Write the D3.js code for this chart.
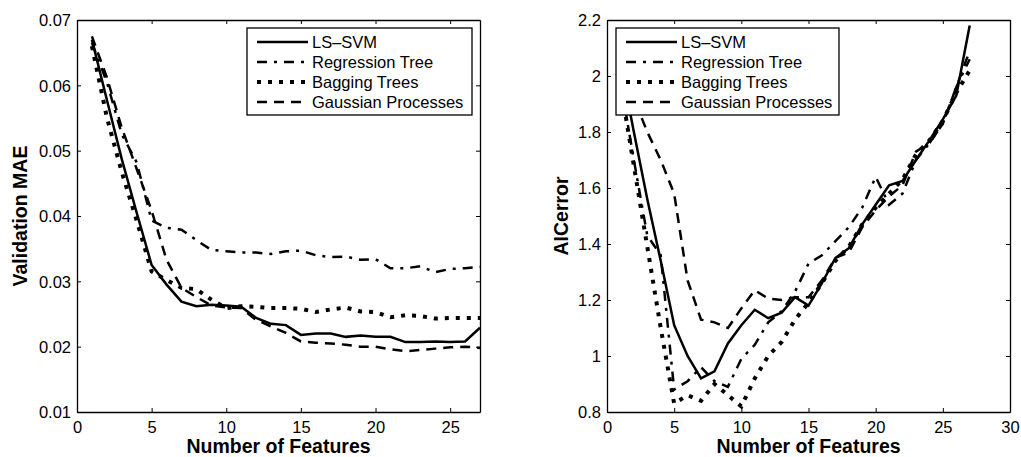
<!DOCTYPE html>
<html>
<head>
<meta charset="utf-8">
<script src="https://cdnjs.cloudflare.com/ajax/libs/d3/7.8.5/d3.min.js"></script>
<style>
  body { margin: 0; background: #fff; }
  text { font-family: "Liberation Sans", Arial, sans-serif; }
</style>
</head>
<body>
<div id="chart"></div>
<script>
// number of features on the x axis
let features = [1, 2, 3, 4, 5, 6, 7, 8, 9, 10, 11, 12, 13, 14, 15, 16, 17, 18, 19, 20, 21, 22, 23, 24, 25, 26, 27];
let seriesNames = ["LS\u2013SVM", "Regression Tree", "Bagging Trees", "Gaussian Processes"];

// left panel: validation MAE
let maeLsSvm = [0.0670, 0.0578, 0.0487, 0.0405, 0.0325, 0.0295, 0.0269, 0.0262, 0.0264, 0.0263, 0.0261, 0.0244, 0.0235, 0.0233, 0.0218, 0.0220, 0.0220, 0.0215, 0.0217, 0.0215, 0.0215, 0.0207, 0.0207, 0.0208, 0.0207, 0.0208, 0.0229];
let maeRegTree = [0.0665, 0.0605, 0.0525, 0.0482, 0.0393, 0.0382, 0.0379, 0.0363, 0.0348, 0.0346, 0.0344, 0.0344, 0.0342, 0.0346, 0.0347, 0.0340, 0.0337, 0.0338, 0.0333, 0.0334, 0.0320, 0.0320, 0.0323, 0.0314, 0.0319, 0.0320, 0.0322];
let maeBagging = [0.0660, 0.0551, 0.0467, 0.0393, 0.0315, 0.0302, 0.0290, 0.0288, 0.0272, 0.0259, 0.0262, 0.0261, 0.0259, 0.0259, 0.0258, 0.0253, 0.0257, 0.0260, 0.0254, 0.0253, 0.0245, 0.0248, 0.0247, 0.0243, 0.0244, 0.0244, 0.0244];
let maeGauss = [0.0675, 0.0612, 0.0535, 0.0472, 0.0408, 0.0333, 0.0290, 0.0276, 0.0263, 0.0260, 0.0259, 0.0241, 0.0231, 0.0221, 0.0208, 0.0206, 0.0205, 0.0203, 0.0200, 0.0200, 0.0196, 0.0193, 0.0195, 0.0197, 0.0199, 0.0200, 0.0198];

// right panel: AICerror
let aicLsSvm = [2.05, 1.80, 1.56, 1.34, 1.11, 1.00, 0.92, 0.945, 1.045, 1.11, 1.165, 1.135, 1.155, 1.21, 1.18, 1.26, 1.35, 1.385, 1.47, 1.54, 1.61, 1.625, 1.70, 1.77, 1.845, 1.93, 2.18];
let aicRegTree = [1.98, 1.70, 1.43, 1.36, 0.88, 0.91, 0.96, 0.91, 0.89, 0.99, 1.04, 1.12, 1.16, 1.23, 1.33, 1.36, 1.41, 1.46, 1.53, 1.64, 1.54, 1.58, 1.70, 1.76, 1.83, 1.96, 2.06];
let aicBagging = [1.97, 1.68, 1.39, 1.10, 0.83, 0.86, 0.84, 0.90, 0.86, 0.82, 0.92, 1.00, 1.05, 1.13, 1.19, 1.26, 1.34, 1.39, 1.47, 1.53, 1.58, 1.63, 1.72, 1.77, 1.84, 1.94, 2.02];
let aicGauss = [2.08, 1.92, 1.80, 1.70, 1.58, 1.27, 1.13, 1.12, 1.10, 1.17, 1.235, 1.205, 1.20, 1.21, 1.21, 1.27, 1.35, 1.37, 1.46, 1.52, 1.57, 1.61, 1.73, 1.76, 1.83, 1.96, 2.09];

// ticks
let maeXTicks = [0, 5, 10, 15, 20, 25];
let maeYTicks = [0.01, 0.02, 0.03, 0.04, 0.05, 0.06, 0.07];
let aicXTicks = [0, 5, 10, 15, 20, 25, 30];
let aicYTicks = [0.8, 1.0, 1.2, 1.4, 1.6, 1.8, 2.0, 2.2];

// line styles, one per series
let dashes = ["none", "10,7,3,7", "4,7", "10,7"];
let widths = [2.5, 2.5, 4, 2.5];

let svg;

function init() {
  svg = d3
    .select("#chart")
    .append("svg")
    .attr("width", 1021)
    .attr("height", 457);

  drawPanel({
    left: 77, right: 480, top: 20, bottom: 412,
    xDomain: [0, 27], yDomain: [0.01, 0.07],
    xTicks: maeXTicks, yTicks: maeYTicks,
    series: [maeLsSvm, maeRegTree, maeBagging, maeGauss],
    yLabel: "Validation MAE", yLabelX: 27,
    legendX: 247, legendW: 225,
    id: "mae"
  });

  drawPanel({
    left: 607, right: 1010, top: 20, bottom: 412,
    xDomain: [0, 30], yDomain: [0.8, 2.2],
    xTicks: aicXTicks, yTicks: aicYTicks,
    series: [aicLsSvm, aicRegTree, aicBagging, aicGauss],
    yLabel: "AICerror", yLabelX: 568,
    legendX: 616, legendW: 223,
    id: "aic"
  });
}

function drawPanel(p) {
  let x = d3.scaleLinear().domain(p.xDomain).range([p.left, p.right]);
  let y = d3.scaleLinear().domain(p.yDomain).range([p.bottom, p.top]);
  let fmt = d3.format("~g");

  let g = svg.append("g");

  g.append("clipPath")
    .attr("id", "clip-" + p.id)
    .append("rect")
    .attr("x", p.left)
    .attr("y", p.top)
    .attr("width", p.right - p.left)
    .attr("height", p.bottom - p.top);

  // series lines
  let line = d3
    .line()
    .x(function (d, i) { return x(features[i]); })
    .y(function (d) { return y(d); });

  g.append("g")
    .attr("clip-path", "url(#clip-" + p.id + ")")
    .selectAll("path")
    .data(p.series)
    .enter()
    .append("path")
    .attr("d", line)
    .attr("fill", "none")
    .attr("stroke", "#000")
    .attr("stroke-width", function (d, i) { return widths[i]; })
    .attr("stroke-dasharray", function (d, i) { return dashes[i]; })
    .attr("stroke-linejoin", "miter");

  // axes, ticks pointing inward like matlab
  let bottomAxis = g.append("g")
    .attr("transform", "translate(0," + p.bottom + ")")
    .call(d3.axisBottom(x).tickValues(p.xTicks).tickFormat(fmt).tickSizeInner(-4).tickSizeOuter(0).tickPadding(9));
  let leftAxis = g.append("g")
    .attr("transform", "translate(" + p.left + ",0)")
    .call(d3.axisLeft(y).tickValues(p.yTicks).tickFormat(fmt).tickSizeInner(-4).tickSizeOuter(0).tickPadding(6));
  g.append("g")
    .attr("transform", "translate(0," + p.top + ")")
    .call(d3.axisTop(x).tickValues(p.xTicks).tickFormat("").tickSizeInner(-4).tickSizeOuter(0));
  g.append("g")
    .attr("transform", "translate(" + p.right + ",0)")
    .call(d3.axisRight(y).tickValues(p.yTicks).tickFormat("").tickSizeInner(-4).tickSizeOuter(0));

  g.selectAll(".domain").attr("stroke", "#000").attr("stroke-width", 1.3);
  g.selectAll(".tick line").attr("stroke", "#000").attr("stroke-width", 1);
  g.selectAll(".tick text")
    .attr("fill", "#000")
    .attr("font-size", 16.5)
    .attr("font-family", "'Liberation Sans', Arial, sans-serif");
  leftAxis.selectAll(".tick text").attr("dy", "0.36em");

  // axis labels
  g.append("text")
    .attr("x", (p.left + p.right) / 2)
    .attr("y", 453)
    .attr("text-anchor", "middle")
    .attr("font-size", 19.5)
    .attr("font-weight", "bold")
    .text("Number of Features");

  g.append("text")
    .attr("transform", "translate(" + p.yLabelX + "," + (p.top + p.bottom) / 2 + ") rotate(-90)")
    .attr("text-anchor", "middle")
    .attr("font-size", 19.5)
    .attr("font-weight", "bold")
    .text(p.yLabel);

  // legend
  let lg = g.append("g").attr("transform", "translate(" + p.legendX + ",28)");
  lg.append("rect")
    .attr("width", p.legendW)
    .attr("height", 87)
    .attr("fill", "#fff")
    .attr("stroke", "#000")
    .attr("stroke-width", 1.3);

  let rows = lg.selectAll(".row")
    .data(seriesNames)
    .enter()
    .append("g")
    .attr("class", "row")
    .attr("transform", function (d, i) { return "translate(0," + (14 + i * 20) + ")"; });

  rows.append("line")
    .attr("x1", 10)
    .attr("x2", 61)
    .attr("stroke", "#000")
    .attr("stroke-width", function (d, i) { return widths[i]; })
    .attr("stroke-dasharray", function (d, i) { return dashes[i]; });

  rows.append("text")
    .attr("x", 65)
    .attr("dy", "0.36em")
    .attr("font-size", 16.5)
    .text(function (d) { return d; });
}

init();
</script>
</body>
</html>
